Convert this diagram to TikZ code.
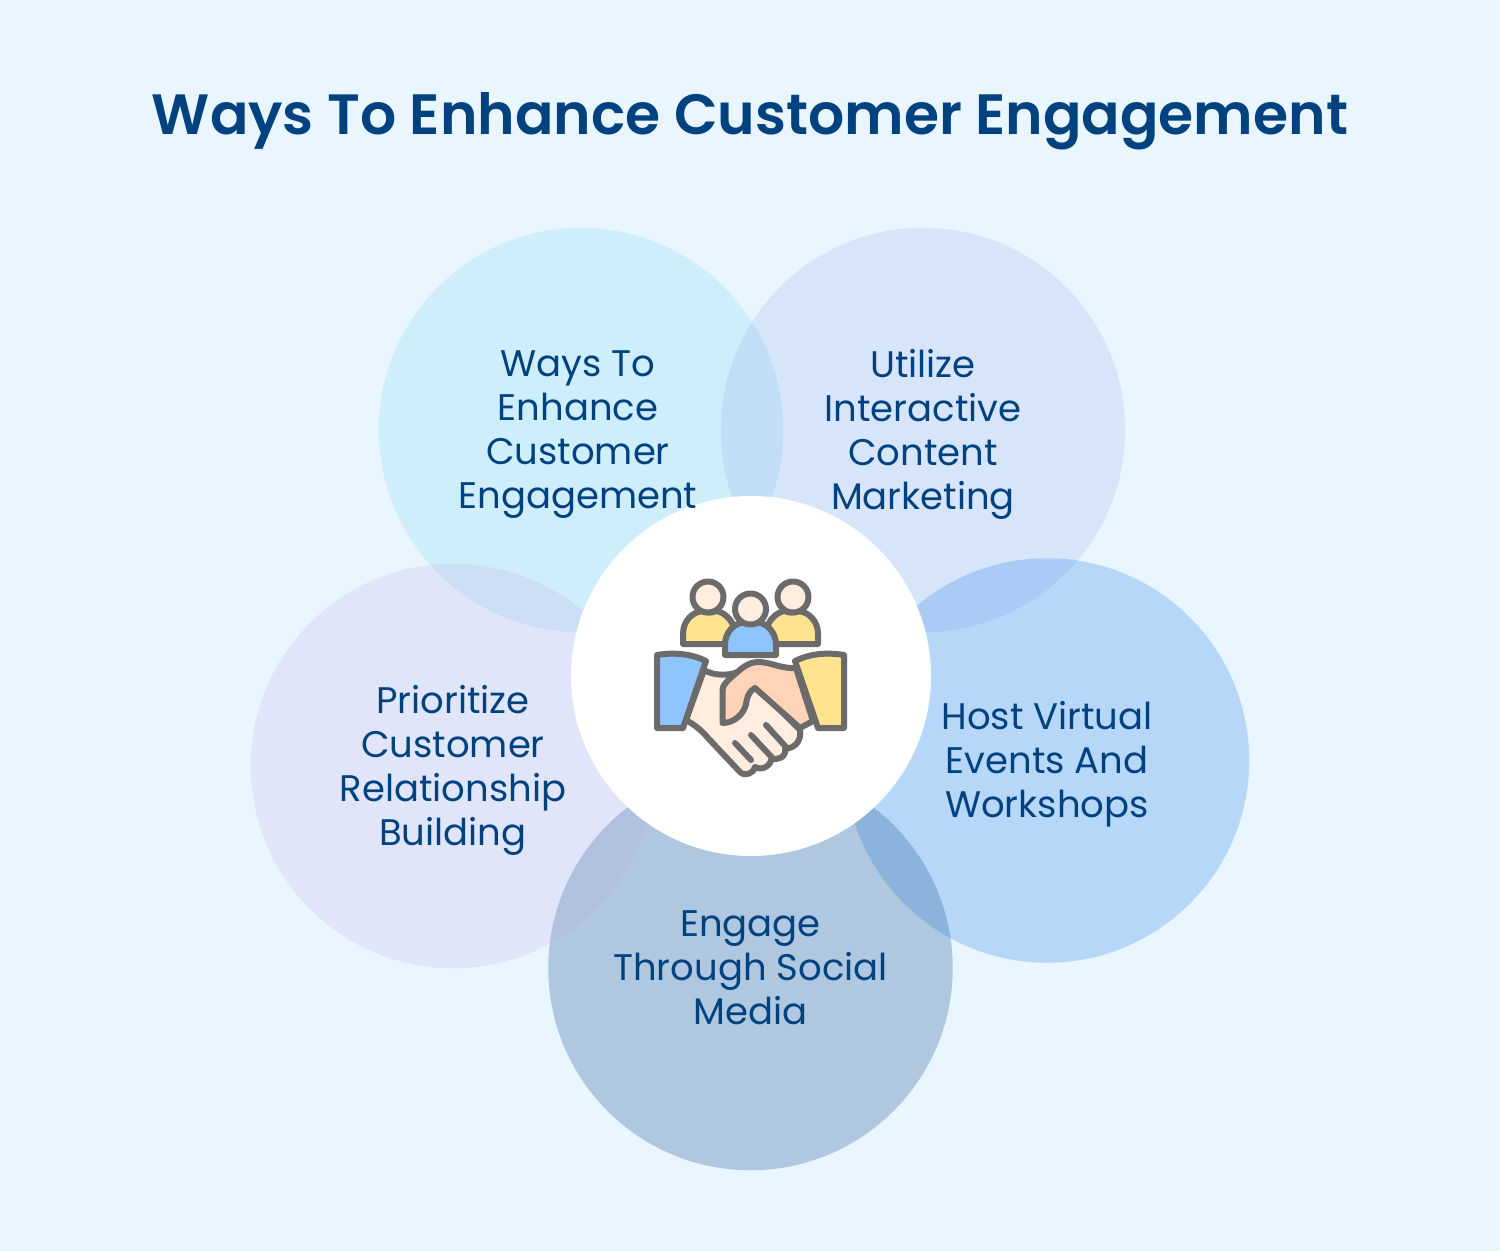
\documentclass[tikz,border=0pt]{standalone}
\usepackage{fontspec}
\setmainfont{Poppins}
\newfontfamily\titlefont{Poppins}[UprightFont=* SemiBold]
\usetikzlibrary{positioning}
\definecolor{bgblue}{HTML}{E9F6FF}
\definecolor{inkblue}{HTML}{004280}
\definecolor{iconline}{HTML}{6B6B6B}
\definecolor{skinlight}{HTML}{FFEEDF}
\definecolor{skinpeach}{HTML}{FFD3B8}
\definecolor{clothblue}{HTML}{8EC5FF}
\definecolor{clothyellow}{HTML}{FFE38F}
\tikzset{petal/.style={circle, minimum size=404.5pt, inner sep=0pt}}
\tikzset{petaltext/.style={align=center, text=inkblue, inner sep=0pt, font=\fontsize{37}{44}\selectfont}}
\tikzset{icn/.style={draw=iconline, line width=6pt, line join=round, line cap=round}}
\begin{document}
\begin{tikzpicture}[x=1pt, y=-1pt]
	\fill[bgblue] (0,0) rectangle (1500,1251);
	\useasboundingbox (0,0) rectangle (1500,1251);
	\node[text=inkblue, font=\titlefont\fontsize{56.8}{60}\selectfont] (title) at (750,121) {Ways To Enhance Customer Engagement};
	\node[petal, fill={rgb,255:red,103;green,206;blue,235}, fill opacity=0.2] (enhance) at (581,430) {};
	\node[petal, fill={rgb,255:red,143;green,161;blue,235}, fill opacity=0.2] (content) at (923,430) {};
	\node[petal, fill={rgb,255:red,66;green,146;blue,235}, fill opacity=0.3] (events) at (1047,760.5) {};
	\node[petal, fill={rgb,255:red,46;green,96;blue,152}, fill opacity=0.3] (social) at (750.5,968) {};
	\node[petal, fill={rgb,255:red,188;green,161;blue,230}, fill opacity=0.2] (bond) at (453,766) {};
	\node[circle, fill=white, minimum size=360pt, inner sep=0pt] (hub) at (751,676) {};
	% labels
	\node[petaltext] (enhancetext) at (578,435) {Ways To\\Enhance\\Customer\\Engagement};
	\node[petaltext] (contenttext) at (923,434) {Utilize\\Interactive\\Content\\Marketing};
	\node[petaltext] (eventstext) at (1047,764) {Host Virtual\\Events And\\Workshops};
	\node[petaltext] (socialtext) at (750.5,968) {Engage\\Through Social\\Media};
	\node[petaltext] (bondtext) at (453,770) {Prioritize\\Customer\\Relationship\\Building};
	% people
	\draw[icn, fill=clothyellow] (683,644) -- (683,634) .. controls (683,621) and (692,612) .. (703,611)
		.. controls (708,613) and (712,613) .. (716,611) .. controls (725,612) and (735,622) .. (735,634) -- (735,644) -- cycle;
	\draw[icn, fill=clothyellow] (818,644) -- (818,634) .. controls (818,621) and (809,612) .. (798,611)
		.. controls (793,613) and (789,613) .. (785,611) .. controls (776,612) and (766,622) .. (766,634) -- (766,644) -- cycle;
	\draw[icn, fill=skinlight] (708,597) circle (15.5pt);
	\draw[icn, fill=skinlight] (793,597) circle (15.5pt);
	\draw[icn, fill=clothblue] (725,655) -- (725,645) .. controls (725,632) and (734,623) .. (745,622)
		.. controls (749,624) and (752,624) .. (756,622) .. controls (767,623) and (776,632) .. (776,645) -- (776,655) -- cycle;
	\draw[icn, fill=skinlight] (750.5,609) circle (15.5pt);
	% hands
	\draw[icn, fill=skinlight] (704,670) .. controls (712,675) and (728,677) .. (740,671) -- (770,700) -- (800,730)
		.. controls (802,742) and (793,749) .. (785,748.5) .. controls (787,757) and (777,761) .. (771.5,758)
		.. controls (771,766) and (762,771) .. (755,767) .. controls (754,773) and (745,777) .. (740,772)
		-- (708,738) .. controls (701,730) and (695,725) .. (686,720) -- cycle;
	\draw[icn, fill=skinpeach] (722.5,723) -- (722.5,690) .. controls (722.5,685) and (728,680) .. (734,675)
		.. controls (742,668) and (748,662) .. (759,662) .. controls (770,662) and (782,669) .. (796,668)
		-- (813,721) -- (800,728) -- (755,688) .. controls (748,692) and (747,698) .. (746,704)
		.. controls (744,714) and (734,723) .. (722.5,723) -- cycle;
	\draw[icn] (735,743) -- (751,760);
	\draw[icn] (751,735) -- (771.5,757);
	\draw[icn] (766,725) -- (786,747);
	% sleeves
	\draw[icn, fill=clothblue] (657,655) .. controls (675,652) and (692,654) .. (706,661) -- (683,728) -- (657,728) -- cycle;
	\draw[icn, fill=clothyellow] (844,655) .. controls (826,652) and (809,654) .. (795,661) -- (818,728) -- (844,728) -- cycle;
\end{tikzpicture}
\end{document}
